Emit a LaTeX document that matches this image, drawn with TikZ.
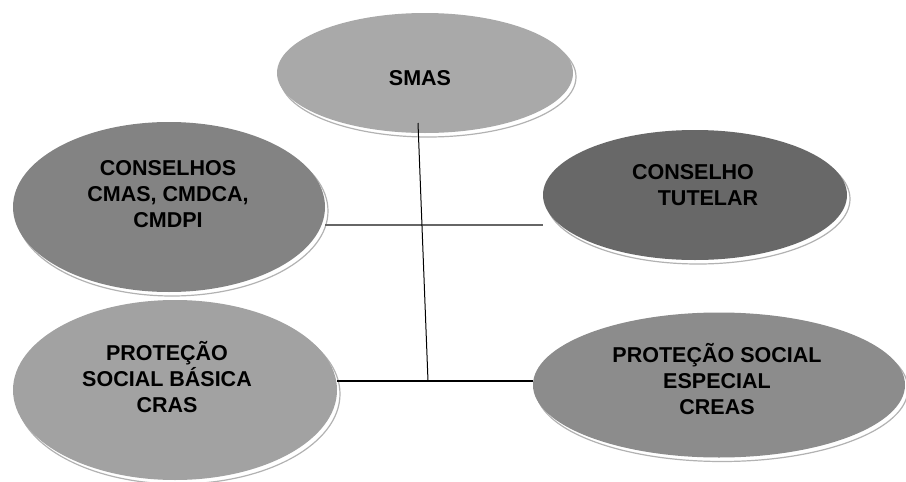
\documentclass[tikz,border=0pt]{standalone}
\usepackage{fontspec}
\setmainfont{Liberation Sans}
\usetikzlibrary{shapes.geometric,shadows}
\definecolor{smasgray}{HTML}{A9A9A9}
\definecolor{consgray}{HTML}{838383}
\definecolor{tutgray}{HTML}{686868}
\definecolor{crasgray}{HTML}{A2A2A2}
\definecolor{creasgray}{HTML}{8C8C8C}
\begin{document}
\begin{tikzpicture}[x=1pt,y=-1pt,
    bubble/.style={ellipse, inner sep=0pt,
      drop shadow={shadow xshift=3pt, shadow yshift=-4pt, fill=white,
        draw=black!30, line width=1.2pt, opacity=1}},
    txt/.style={align=center, inner sep=0pt,
      font=\fontsize{21.5pt}{26pt}\selectfont\bfseries}]
      \useasboundingbox (0,0) rectangle (906,482);
      % ellipses
      \node[bubble, fill=smasgray, minimum width=296pt, minimum height=120pt] (smas) at (425,73) {};
      \node[bubble, fill=consgray, minimum width=312pt, minimum height=170pt] (cons) at (169,207) {};
      \node[bubble, fill=tutgray, minimum width=304pt, minimum height=130pt] (tut) at (695,195) {};
      \node[bubble, fill=crasgray, minimum width=324pt, minimum height=180pt] (cras) at (175,390) {};
      \node[bubble, fill=creasgray, minimum width=372pt, minimum height=145pt] (creas) at (719,385) {};
      % texts
      \node[txt] (smastxt) at (420,78) {SMAS};
      \node[txt] (constxt) at (168,194) {CONSELHOS\\CMAS, CMDCA,\\CMDPI};
      \node[txt] (tuttxt) at (693,185) {CONSELHO\\\hspace*{30pt}TUTELAR};
      \node[txt] (crastxt) at (167,377) {PROTEÇÃO\\SOCIAL BÁSICA\\CRAS};
      \node[txt] (creastxt) at (717,379) {PROTEÇÃO SOCIAL\\ESPECIAL\\CREAS};
      % connectors
      \coordinate (jtop) at (418,123);
      \coordinate (jmid) at (423,225);
      \coordinate (jbot) at (428,381);
      \begin{scope}[-]
        \draw[black!60, line width=2.6pt] (cons.east |- jmid) to (tut.west |- jmid);
        \draw[line width=1.3pt] (cras.east |- jbot) to (creas.west |- jbot);
        \draw[line width=1pt] (jtop) to (jbot);
      \end{scope}
    \end{tikzpicture}
\end{document}
